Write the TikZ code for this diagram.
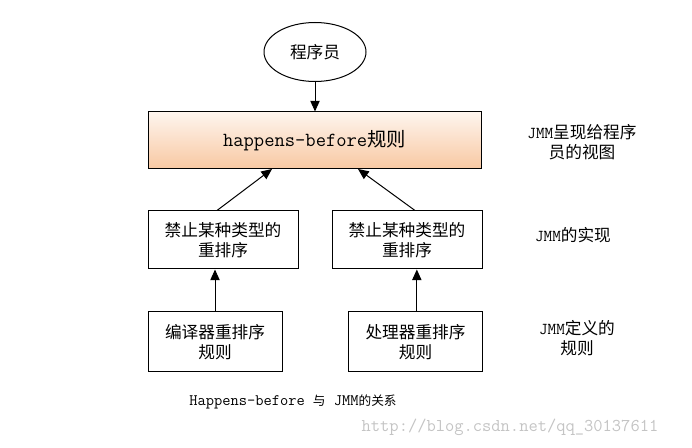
\documentclass[tikz,border=0pt]{standalone}
\usepackage{fontspec}
\newfontfamily\cjk{Noto Sans CJK SC}
\usetikzlibrary{positioning,shapes.geometric,arrows.meta}
\definecolor{peachtop}{HTML}{FEF5EE}
\definecolor{peachbot}{HTML}{F8C8A2}
\definecolor{wmgray}{HTML}{C4C4C4}
\tikzset{
	box/.style = {draw, line width=0.75pt, minimum height=43.5pt, align=center,
		font=\fontsize{12.5}{15}\selectfont\cjk},
	viewbox/.style = {draw, line width=0.75pt, minimum width=249.75pt, minimum height=42.75pt,
		top color=peachtop, bottom color=peachbot, font=\fontsize{15}{17}\selectfont\ttfamily},
	lbl/.style = {align=center, font=\fontsize{12.5}{15}\selectfont\ttfamily},
	arr/.style = {line width=0.75pt, -{Triangle[length=8pt,width=7pt]}}
}

\begin{document}
\begin{tikzpicture}[x=0.75pt, y=-0.75pt]
	\useasboundingbox (0,0) rectangle (692,448);

	% programmer and the view it gets
	\node[ellipse, draw, line width=0.75pt, minimum width=76.5pt, minimum height=44.25pt,
		font=\fontsize{12.5}{15}\selectfont\cjk] (prog) at (315,52) {程序员};
	\node[viewbox] (hb) at (314.5,140.5) {happens-before{\cjk\fontsize{14.5}{17}\selectfont 规则}};

	% the two reorderings
	\node[box, minimum width=112.5pt] (forbidl) at (223,240) {禁止某种类型的\\重排序};
	\node[box, minimum width=112.5pt] (forbidr) at (407,240) {禁止某种类型的\\重排序};

	\node[box, minimum width=100.5pt, minimum height=45pt] (compiler) at (215,342) {编译器重排序\\规则};
	\node[box, minimum width=100pt, minimum height=45pt] (cpu) at (415.5,342) {处理器重排序\\规则};

	\coordinate (hbl) at (272,169);
	\coordinate (hbr) at (358,169);

	\draw[arr] (prog) -- (prog.south |- hb.north);
	\draw[arr] ([xshift=-4.5pt]forbidl.north) -- (hbl);
	\draw[arr] ([xshift=6pt]forbidr.north) -- (hbr);
	\draw[arr] (compiler.north) -- (compiler.north |- forbidl.south);
	\draw[arr] ([xshift=1pt]cpu.north) -- ([xshift=1pt]cpu.north |- forbidr.south);

	% labels on the right
	\node[lbl] (lview) at (582,142) {JMM{\cjk 呈现给程序}\\{\cjk 员的视图}};
	\node[lbl] (limpl) at (573,235) {JMM{\cjk 的实现}};
	\node[lbl] (lrule) at (577,338) {JMM{\cjk 定义的}\\{\cjk 规则}};

	\node[font=\fontsize{12}{14}\selectfont\ttfamily] (caption) at (293,402)
		{Happens-before {\cjk\fontsize{9.5}{12}\selectfont 与} JMM{\cjk\fontsize{9.5}{12}\selectfont 的关系}};
	\node[text=wmgray, font=\fontsize{13.5}{15}\selectfont\ttfamily, anchor=east] (mark) at (663,427)
		{http://blog.csdn.net/qq\_30137611};
\end{tikzpicture}
\end{document}
